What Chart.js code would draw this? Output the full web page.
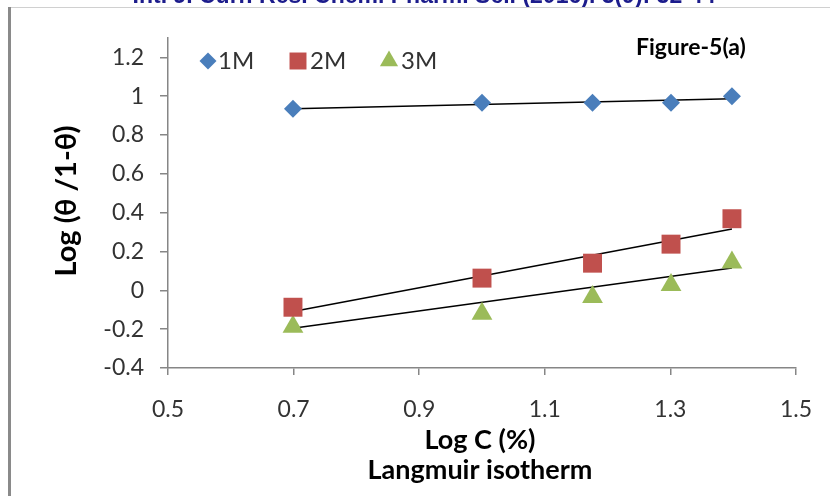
<!DOCTYPE html>
<html>
<head>
<meta charset="utf-8">
<script src="https://cdn.jsdelivr.net/npm/chart.js@4.4.1/dist/chart.umd.min.js"></script>
<style>
  html, body { margin: 0; padding: 0; background: #fff; }
  #wrap { width: 830px; height: 496px; position: relative; }
</style>
</head>
<body>
<div id="wrap"><canvas id="chart" width="830" height="496"></canvas></div>
<script>
// Langmuir isotherm, Figure-5(a)
const logC = [0.699, 1.0, 1.176, 1.301, 1.398];
const series1M = [0.935, 0.966, 0.966, 0.966, 1.0];
const series2M = [-0.087, 0.063, 0.14, 0.238, 0.369];
const series3M = [-0.188, -0.12, -0.034, 0.027, 0.143];

// trend line end points (x = first / last logC)
const trend1M = [0.935, 0.987];
const trend2M = [-0.109, 0.316];
const trend3M = [-0.195, 0.115];

const xTicks = [0.5, 0.7, 0.9, 1.1, 1.3, 1.5];
const yTicks = [-0.4, -0.2, 0, 0.2, 0.4, 0.6, 0.8, 1, 1.2];

const seriesNames = ['1M', '2M', '3M'];
const seriesColors = ['#4a7ebb', '#c0504d', '#9bbb59'];
const seriesStyles = ['rectRot', 'rect', 'triangle'];

const FONT = 'Lato, "Open Sans", sans-serif';
const AXIS = '#868686';

const pts = (ys) => logC.map((x, i) => ({ x, y: ys[i] }));
const line = (ends) => [{ x: logC[0], y: ends[0] }, { x: logC[logC.length - 1], y: ends[1] }];

// 标注、标题、图例、边框
const decor = {
  id: 'decor',
  afterDraw(chart) {
    const c = chart.ctx;
    const a = chart.chartArea;
    c.save();
    // header, cut off at the top
    c.fillStyle = '#1c1c8c';
    c.font = 'bold 23px "Liberation Sans", Arial, sans-serif';
    c.textAlign = 'center';
    c.textBaseline = 'alphabetic';
    c.fillText('Int. J. Curr. Res. Chem. Pharm. Sci. (2016). 3(9): 32-44', 424, 3);
    // frame
    c.strokeStyle = '#d0d0d0';
    c.lineWidth = 1;
    c.beginPath(); c.moveTo(8, 7.5); c.lineTo(830, 7.5); c.stroke();
    c.strokeStyle = '#8a8a8a';
    c.lineWidth = 3;
    c.beginPath(); c.moveTo(9.5, 7); c.lineTo(9.5, 496); c.stroke();

    c.fillStyle = '#000';
    c.font = 'bold 23px ' + FONT;
    c.textAlign = 'left';
    c.textBaseline = 'middle';
    c.fillText('Figure-5(a)', 636, 48);

    // axis titles
    const cx = (a.left + a.right) / 2;
    c.font = 'bold 27px ' + FONT;
    c.textAlign = 'center';
    c.textBaseline = 'alphabetic';
    c.fillText('Log C (%)', cx - 2, 449);
    c.fillText('Langmuir isotherm', cx - 2, 479);
    c.save();
    c.translate(76, 201);
    c.rotate(-Math.PI / 2);
    c.font = 'bold 29px ' + FONT;
    c.fillText('Log (\u03b8 /1-\u03b8)', 0, 0);
    c.restore();

    // legend inside plot
    const lx = [208, 298, 389];
    const tx = [218, 310, 401];
    const lr = [8.5, 12, 10.5];
    c.font = '24px ' + FONT;
    c.textAlign = 'left';
    c.textBaseline = 'middle';
    seriesNames.forEach((n, i) => {
      c.fillStyle = seriesColors[i];
      c.strokeStyle = seriesColors[i];
      Chart.helpers.drawPoint(c, { pointStyle: seriesStyles[i], radius: lr[i], borderWidth: 0 }, lx[i], 61);
      c.fillStyle = '#333';
      c.fillText(n, tx[i], 61);
    });
    c.restore();
  }
};

const trendDs = (ends) => ({
  data: line(ends), showLine: true, borderColor: '#000', borderWidth: 1.5,
  pointRadius: 0, fill: false, order: 5
});
const markDs = (ys, i, r) => ({
  label: seriesNames[i], data: pts(ys), showLine: false,
  pointStyle: seriesStyles[i], pointRadius: r, pointHoverRadius: r,
  backgroundColor: seriesColors[i], borderColor: seriesColors[i], borderWidth: 0, order: 1
});

new Chart(document.getElementById('chart'), {
  type: 'scatter',
  data: {
    datasets: [
      trendDs(trend1M), trendDs(trend2M), trendDs(trend3M),
      markDs(series1M, 0, 9), markDs(series2M, 1, 13.4), markDs(series3M, 2, 12)
    ]
  },
  options: {
    responsive: false,
    animation: false,
    layout: { padding: { top: 38, right: 34, left: 0, bottom: 0 } },
    plugins: { legend: { display: false }, tooltip: { enabled: false } },
    scales: {
      x: {
        type: 'linear', min: 0.5, max: 1.5,
        afterBuildTicks: (s) => { s.ticks = xTicks.map(v => ({ value: v })); },
        afterFit: (s) => { s.height = 128; s.paddingLeft = 0; s.paddingRight = 0; },
        border: { color: AXIS, width: 1.5 },
        grid: { drawOnChartArea: false, drawTicks: true, tickLength: 7, color: AXIS, lineWidth: 1.5 },
        ticks: { padding: 21, color: '#333', font: { family: FONT, size: 23 }, callback: (v) => String(Math.round(v * 10) / 10) }
      },
      y: {
        type: 'linear', min: -0.4, max: 1.3,
        afterBuildTicks: (s) => { s.ticks = yTicks.map(v => ({ value: v })); },
        afterFit: (s) => { s.width = 168; s.paddingTop = 0; s.paddingBottom = 0; },
        border: { color: AXIS, width: 1.5 },
        grid: { drawOnChartArea: false, drawTicks: true, tickLength: 8, color: AXIS, lineWidth: 1.5 },
        ticks: { padding: 16, color: '#333', font: { family: FONT, size: 23 }, callback: (v) => String(Math.round(v * 10) / 10) }
      }
    }
  },
  plugins: [decor]
});
</script>
</body>
</html>
